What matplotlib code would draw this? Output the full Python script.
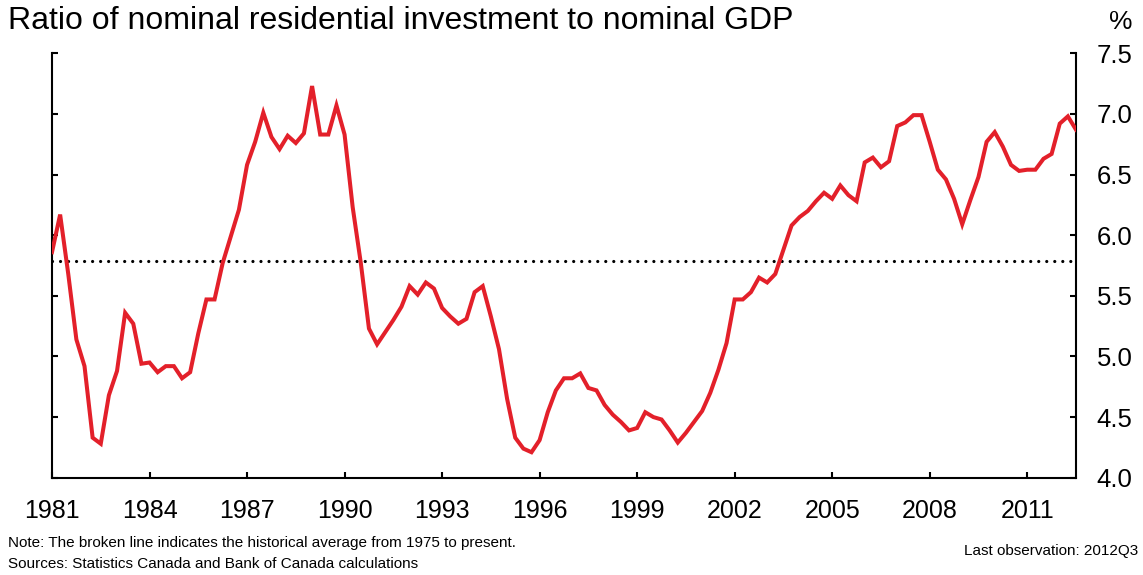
import matplotlib
matplotlib.use("Agg")
import matplotlib.pyplot as plt
import numpy as np

plt.rcParams['font.family'] = ['Liberation Sans', 'DejaVu Sans']

# Quarterly data, 1981Q1 .. 2012Q3
start_year = 1981
ratio = [
    5.86, 6.17, 5.68, 5.14, 4.92, 4.33, 4.28, 4.68, 4.88, 5.36,
    5.27, 4.94, 4.95, 4.87, 4.92, 4.92, 4.82, 4.87, 5.19, 5.47,
    5.47, 5.77, 5.99, 6.21, 6.58, 6.77, 7.01, 6.81, 6.71, 6.82,
    6.76, 6.84, 7.23, 6.83, 6.83, 7.07, 6.83, 6.23, 5.77, 5.23,
    5.10, 5.20, 5.30, 5.41, 5.58, 5.51, 5.61, 5.56, 5.40, 5.33,
    5.27, 5.31, 5.53, 5.58, 5.33, 5.06, 4.65, 4.33, 4.24, 4.21,
    4.31, 4.54, 4.72, 4.82, 4.82, 4.86, 4.74, 4.72, 4.60, 4.52,
    4.46, 4.39, 4.41, 4.54, 4.50, 4.48, 4.39, 4.29, 4.37, 4.46,
    4.55, 4.70, 4.89, 5.11, 5.47, 5.47, 5.53, 5.65, 5.61, 5.68,
    5.88, 6.08, 6.15, 6.20, 6.28, 6.35, 6.30, 6.41, 6.33, 6.28,
    6.60, 6.64, 6.56, 6.61, 6.90, 6.93, 6.99, 6.99, 6.77, 6.54,
    6.46, 6.30, 6.09, 6.29, 6.48, 6.77, 6.85, 6.73, 6.58, 6.53,
    6.54, 6.54, 6.63, 6.67, 6.92, 6.98, 6.87,
]
historical_avg = 5.79
x_tick_years = [1981, 1984, 1987, 1990, 1993, 1996, 1999, 2002, 2005, 2008, 2011]
y_ticks = [4.0, 4.5, 5.0, 5.5, 6.0, 6.5, 7.0, 7.5]

t = start_year + np.arange(len(ratio)) / 4.0

fig = plt.figure(figsize=(11.43, 5.75), dpi=100)
ax = fig.add_axes([52/1143, 1 - 477.7/575, (1076 - 52)/1143, (477.7 - 53.3)/575])

ax.axhline(historical_avg, color='black', linewidth=2.3,
           linestyle=(0, (0.01, 2.5)), dash_capstyle='round', zorder=2)
ax.plot(t, ratio, color='#E3202A', linewidth=2.9, solid_joinstyle='miter', zorder=3)

ax.set_xlim(1981, 2012.5)
ax.set_ylim(4.0, 7.5)
ax.set_xticks(x_tick_years)
ax.set_xticklabels([str(y) for y in x_tick_years])
ax.set_yticks(y_ticks)
ax.set_yticklabels([f"{v:.1f}" for v in y_ticks])

ax.spines['top'].set_visible(False)
for s in ['left', 'right', 'bottom']:
    ax.spines[s].set_linewidth(1.5)

ax.yaxis.set_ticks_position('both')
ax.tick_params(axis='y', which='both', direction='in', length=4.5, width=1.5,
               labelleft=False, labelright=True, labelsize=18.5, pad=15)
ax.tick_params(axis='x', direction='in', length=4.5, width=1.5,
               labelsize=18, pad=15)

fig.text(8/1143, 1 - 21/575, "Ratio of nominal residential investment to nominal GDP",
         fontsize=23, ha='left', va='center')
fig.text(1121/1143, 1 - 22/575, "%", fontsize=19, ha='center', va='center')

fig.text(8/1143, 1 - 543/575,
         "Note: The broken line indicates the historical average from 1975 to present.",
         fontsize=11, ha='left', va='center',
         family=['Liberation Sans Narrow', 'Liberation Sans'])
fig.text(8/1143, 1 - 564/575,
         "Sources: Statistics Canada and Bank of Canada calculations",
         fontsize=11, ha='left', va='center',
         family=['Liberation Sans Narrow', 'Liberation Sans'])
fig.text(1138/1143, 1 - 551/575, "Last observation: 2012Q3",
         fontsize=11, ha='right', va='center',
         family=['Liberation Sans Narrow', 'Liberation Sans'])

fig.savefig("out.png", dpi=100)
